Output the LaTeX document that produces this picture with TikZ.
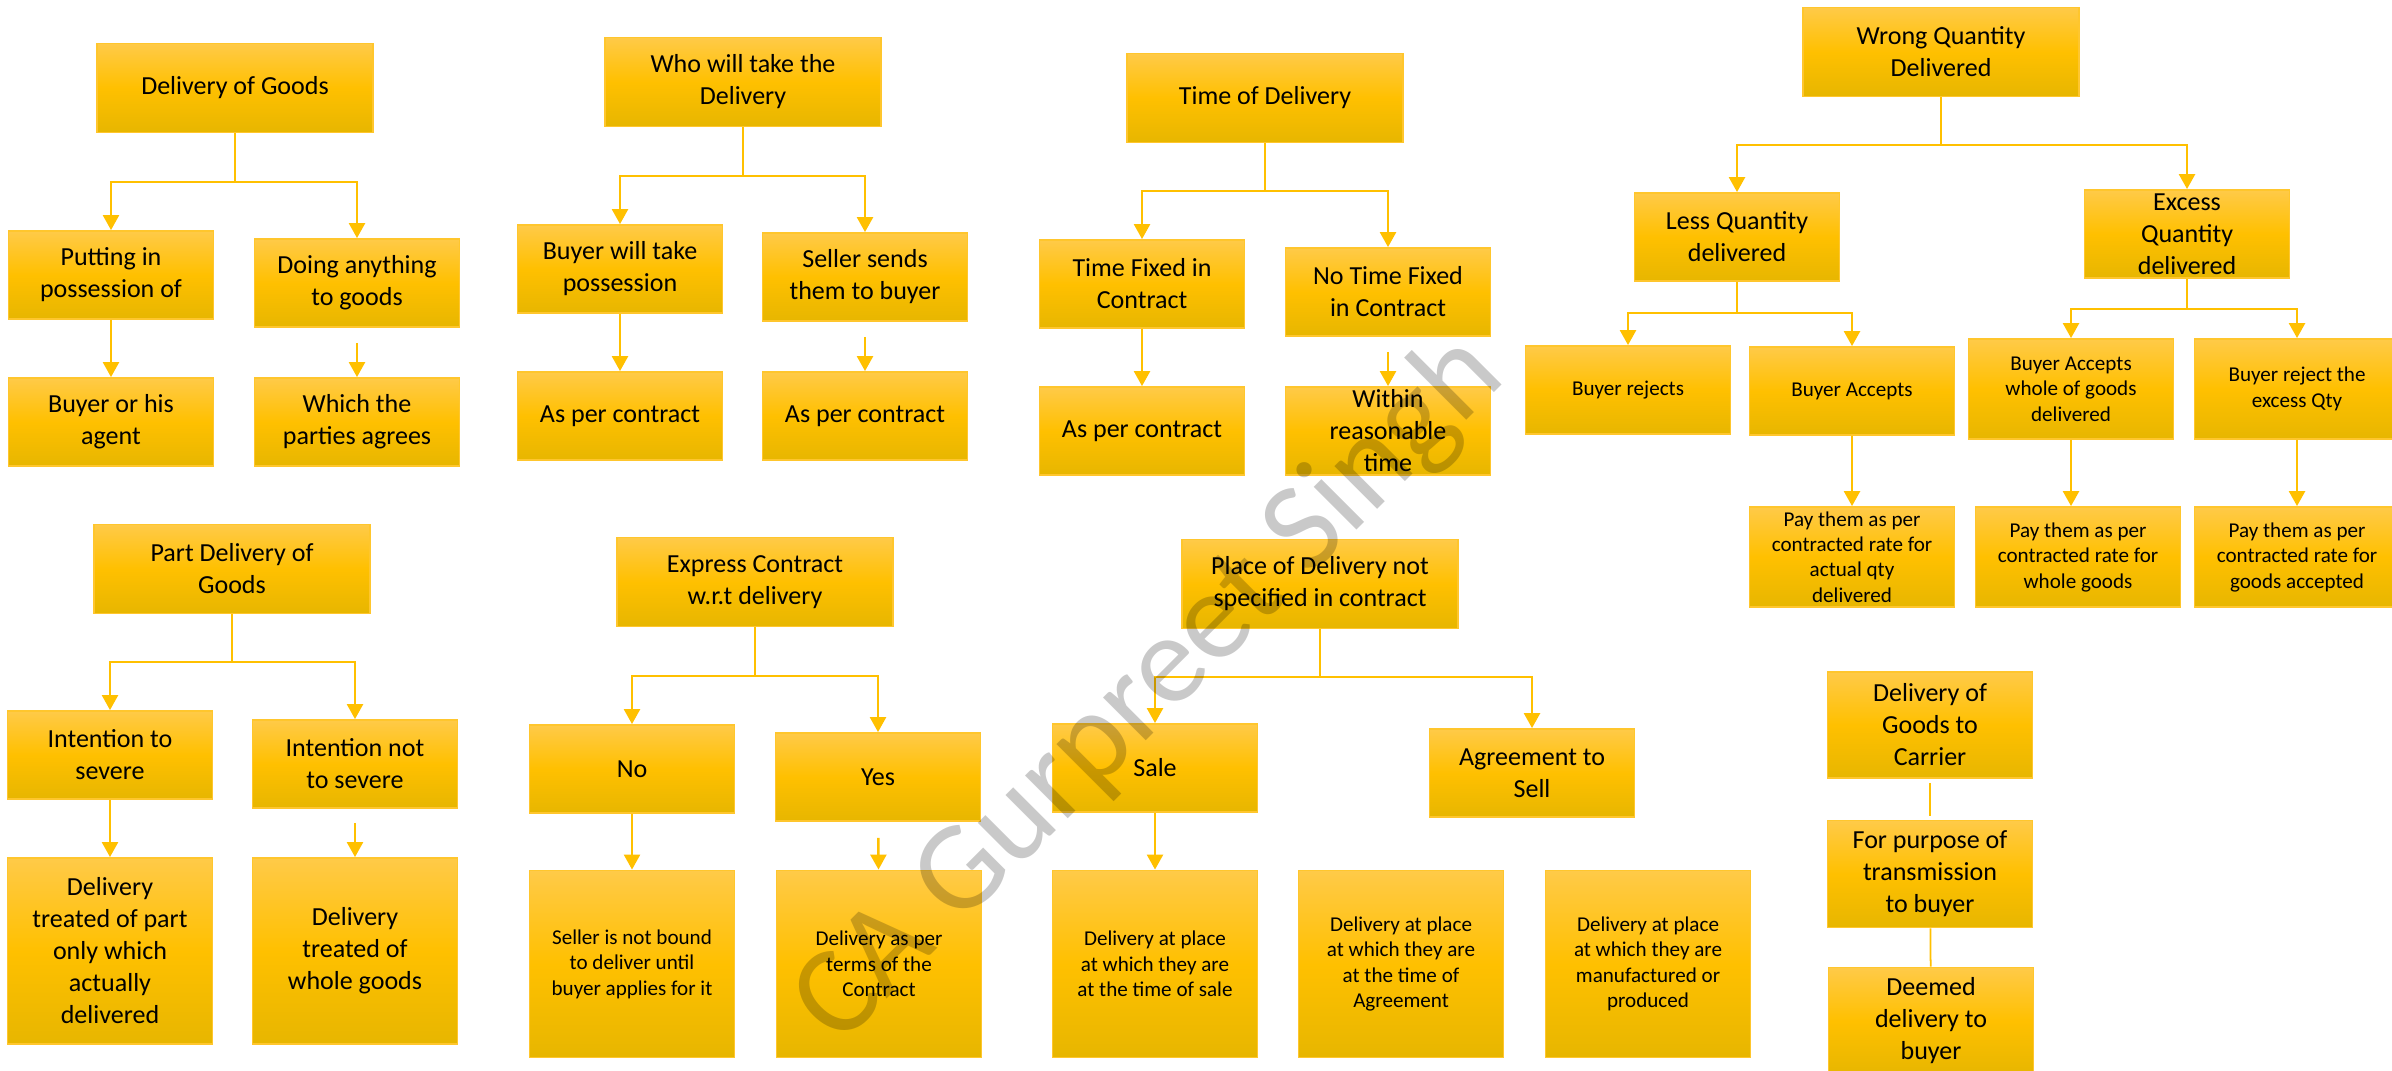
\documentclass[tikz,border=0pt]{standalone}
\usepackage{fontspec}
\setmainfont{Carlito}
\usepackage{tikz}
\usetikzlibrary{arrows.meta}
\definecolor{boxtop}{RGB}{255,202,72}
\definecolor{boxmid}{RGB}{255,192,0}
\definecolor{boxbot}{RGB}{231,182,0}
\definecolor{boxline}{RGB}{255,198,45}
\definecolor{linkcol}{RGB}{255,192,0}
\newcommand{\bigtxt}{\fontsize{7.4}{9.1}\selectfont}
\newcommand{\smalltxt}{\fontsize{6}{7.25}\selectfont}
\newcommand{\marktxt}{\fontsize{36}{42}\selectfont}

\begin{document}
\begin{tikzpicture}[x=0.01cm,y=-0.01cm,
    box/.style={draw=boxline,line width=0.5pt,top color=boxtop,bottom color=boxbot,
      middle color=boxmid,minimum width=2.05cm,minimum height=0.88cm,inner sep=0pt,
      align=center,text=black,font=\bigtxt},
    head/.style={box,minimum width=2.76cm,minimum height=0.89cm},
    small/.style={box,font=\smalltxt},
    link/.style={draw=linkcol,line width=0.7pt,-{Triangle[length=0.15cm,width=0.16cm]}},
    plain/.style={draw=linkcol,line width=0.5pt},
    watermark/.style={rotate=45,text=black,text opacity=0.21,font=\marktxt}]
    \useasboundingbox (0,0) rectangle (2392,1071);
    \clip (0,0) rectangle (2392,1071);
    \fill[white] (0,0) rectangle (2392,1071);

    \node[head] (dg)      at ( 235,  88) {Delivery of Goods};
    \node[box]  (putting) at ( 111, 275) {Putting in\\possession of};
    \node[box]  (doing)   at ( 357, 283) {Doing anything\\to goods};
    \node[box]  (agent)   at ( 111, 422) {Buyer or his\\agent};
    \node[box]  (parties) at ( 357, 422) {Which the\\parties agrees};
    \coordinate (dgJ) at (235,182);
    \draw[link] (dg.south) -- (dgJ) -| (putting.north);
    \draw[link] (dgJ) -| (doing.north);
    \draw[link] (putting) -- (agent);
    \draw[link,shorten <=0.15cm] (doing) -- (parties);

    \node[head] (who)        at ( 743,  82) {Who will take the\\Delivery};
    \node[box]  (buyertake)  at ( 620, 269) {Buyer will take\\possession};
    \node[box]  (sellersend) at ( 865, 277) {Seller sends\\them to buyer};
    \node[box]  (contractA)  at ( 620, 416) {As per contract};
    \node[box]  (contractB)  at ( 865, 416) {As per contract};
    \coordinate (whoJ) at (743,176);
    \draw[link] (who.south) -- (whoJ) -| (buyertake.north);
    \draw[link] (whoJ) -| (sellersend.north);
    \draw[link] (buyertake) -- (contractA);
    \draw[link,shorten <=0.15cm] (sellersend) -- (contractB);

    \node[head] (time)       at (1265,  98) {Time of Delivery};
    \node[box]  (fixed)      at (1142, 284) {Time Fixed in\\Contract};
    \node[box]  (notfixed)   at (1388, 292) {No Time Fixed\\in Contract};
    \node[box]  (contractC)  at (1142, 431) {As per contract};
    \node[box]  (reasonable) at (1388, 431) {Within\\reasonable\\time};
    \coordinate (timeJ) at (1265,191);
    \draw[link] (time.south) -- (timeJ) -| (fixed.north);
    \draw[link] (timeJ) -| (notfixed.north);
    \draw[link] (fixed) -- (contractC);
    \draw[link,shorten <=0.15cm] (notfixed) -- (reasonable);

    \node[head] (wrong)  at (1941,  52) {Wrong Quantity\\Delivered};
    \node[box]  (less)   at (1737, 237) {Less Quantity\\delivered};
    \node[box]  (excess) at (2187, 234) {Excess\\Quantity\\delivered};
    \node[small]                    (rejects)      at (1628, 390) {Buyer rejects};
    \node[small]                    (accepts)      at (1852, 391) {Buyer Accepts};
    \node[small,minimum height=1cm] (payactual)    at (1852, 557) {Pay them as per\\contracted rate for\\actual qty\\delivered};
    \node[small,minimum height=1cm] (acceptswhole) at (2071, 389) {Buyer Accepts\\whole of goods\\delivered};
    \node[small,minimum height=1cm] (rejectexcess) at (2297, 389) {Buyer reject the\\excess Qty};
    \node[small,minimum height=1cm] (paywhole)     at (2078, 557) {Pay them as per\\contracted rate for\\whole goods};
    \node[small,minimum height=1cm] (payaccepted)  at (2297, 557) {Pay them as per\\contracted rate for\\goods accepted};
    \coordinate (wrongJ)  at (1941,145);
    \coordinate (lessJ)   at (1737,313);
    \coordinate (excessJ) at (2187,309);
    \draw[link] (wrong.south) -- (wrongJ) -| (less.north);
    \draw[link] (wrongJ) -| (excess.north);
    \draw[link] (less.south) -- (lessJ) -| (rejects.north);
    \draw[link] (lessJ) -| (accepts.north);
    \draw[link] (excess.south) -- (excessJ) -| (acceptswhole.north);
    \draw[link] (excessJ) -| (rejectexcess.north);
    \draw[link] (accepts) -- (payactual);
    \draw[link] (acceptswhole.south) -- (acceptswhole.south |- paywhole.north);
    \draw[link] (rejectexcess) -- (payaccepted);

    \node[head] (part)     at ( 232, 569) {Part Delivery of\\Goods};
    \node[box]  (sever)    at ( 110, 755) {Intention to\\severe};
    \node[box]  (notsever) at ( 355, 764) {Intention not\\to severe};
    \node[box,minimum height=1.86cm] (partonly)   at ( 110, 951) {Delivery\\treated of part\\only which\\actually\\delivered};
    \node[box,minimum height=1.86cm] (wholegoods) at ( 355, 951) {Delivery\\treated of\\whole goods};
    \coordinate (partJ) at (232,662);
    \draw[link] (part.south) -- (partJ) -| (sever.north);
    \draw[link] (partJ) -| (notsever.north);
    \draw[link] (sever) -- (partonly);
    \draw[link,shorten <=0.14cm] (notsever) -- (wholegoods);

    \node[head] (express) at ( 755, 582) {Express Contract\\w.r.t delivery};
    \node[box]  (no)      at ( 632, 769) {No};
    \node[box]  (yes)     at ( 878, 777) {Yes};
    \node[small,minimum height=1.87cm] (notbound) at ( 632, 964) {Seller is not bound\\to deliver until\\buyer applies for it};
    \node[small,minimum height=1.87cm] (terms)    at ( 879, 964) {Delivery as per\\terms of the\\Contract};
    \coordinate (expressJ) at (755,676);
    \draw[link] (express.south) -- (expressJ) -| (no.north);
    \draw[link] (expressJ) -| (yes.north);
    \draw[link] (no) -- (notbound);
    \draw[link,shorten <=0.16cm] (yes) -- (terms);

    \node[head] (place)     at (1320, 584) {Place of Delivery not\\specified in contract};
    \node[box]  (sale)      at (1155, 768) {Sale};
    \node[box]  (agreement) at (1532, 773) {Agreement to\\Sell};
    \node[small,minimum height=1.87cm] (atsale)  at (1155, 964) {Delivery at place\\at which they are\\at the time of sale};
    \node[small,minimum height=1.87cm] (atagree) at (1401, 964) {Delivery at place\\at which they are\\at the time of\\Agreement};
    \node[small,minimum height=1.87cm] (atmade)  at (1648, 964) {Delivery at place\\at which they are\\manufactured or\\produced};
    \coordinate (placeJ) at (1320,677);
    \draw[link] (place.south) -- (placeJ) -| (sale.north);
    \draw[link] (placeJ) -| (agreement.north);
    \draw[link] (sale) -- (atsale);

    \node[box,minimum height=1.06cm] (carrier) at (1930, 725) {Delivery of\\Goods to\\Carrier};
    \node[box,minimum height=1.07cm] (purpose) at (1930, 874) {For purpose of\\transmission\\to buyer};
    \node[box,minimum height=1.07cm] (deemed)  at (1931,1021) {Deemed\\delivery to\\buyer};
    \draw[plain,shorten <=0.04cm,shorten >=0.04cm] (carrier) -- (purpose);
    \draw[plain] (purpose) -- (deemed);

    \node[watermark] (wm) at (1150,690) {CA Gurpreet Singh};
  \end{tikzpicture}
\end{document}
